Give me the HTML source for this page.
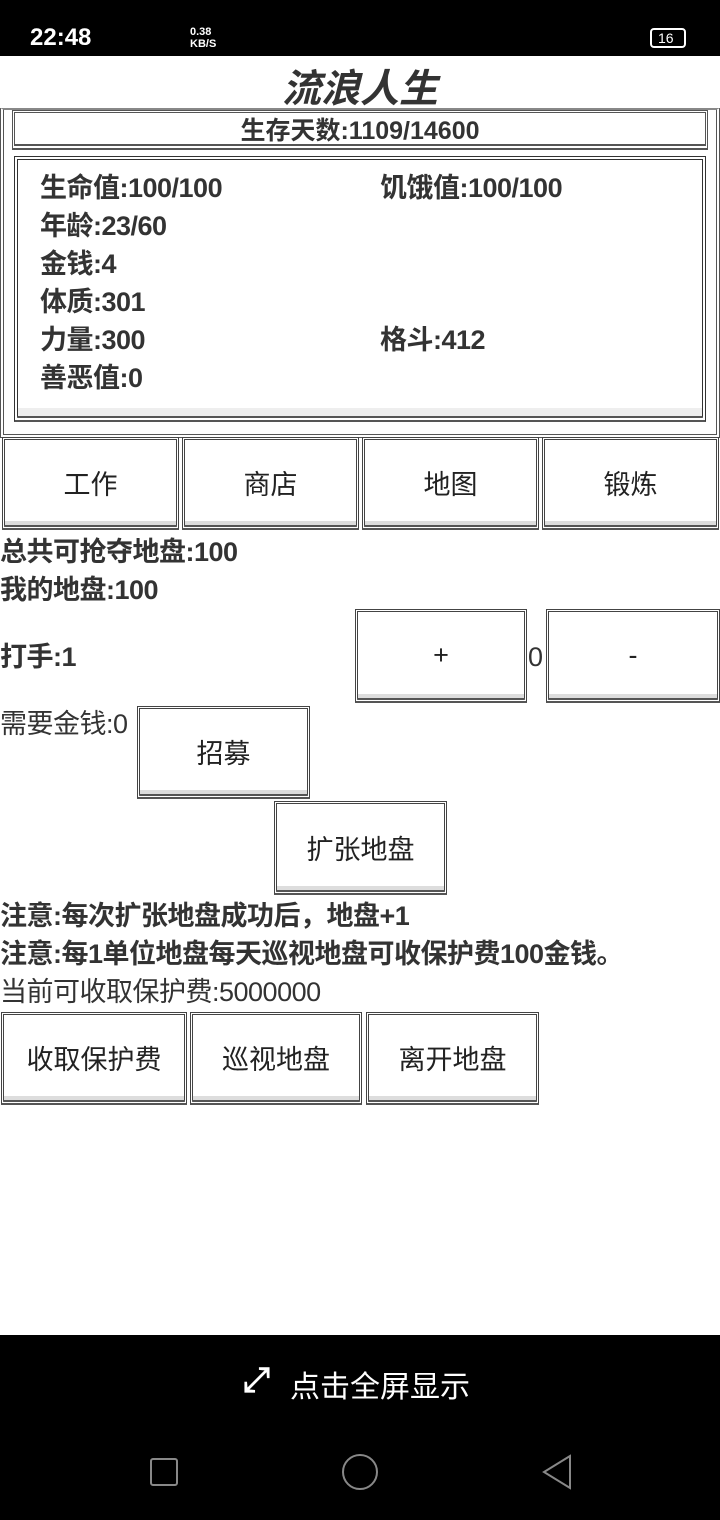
<!DOCTYPE html>
<html><head><meta charset="utf-8"><style>
*{margin:0;padding:0;box-sizing:border-box}
body{width:720px;height:1520px;background:#fff;position:relative;overflow:hidden;font-family:"Liberation Sans","Noto Sans CJK SC",sans-serif;color:#333}
.a{position:absolute;white-space:nowrap}
.b{position:absolute;border:3px double #444;border-bottom:5px double #555;background:#fff;display:flex;align-items:center;justify-content:center;font-size:27px;color:#222;box-shadow:inset 0 -4px 0 #ddd}
.t{font-size:27px;font-weight:bold;line-height:30px;letter-spacing:-0.5px}
.n{font-size:27px;line-height:30px;letter-spacing:-0.5px}
</style></head><body>
<div class="a" style="left:0;top:0;width:720px;height:56px;background:#000"></div>
<div class="a" style="left:30px;top:24px;color:#fff;font-size:24px;font-weight:bold">22:48</div>
<div class="a" style="left:190px;top:26px;color:#fff;font-size:11px;line-height:12px;font-weight:bold">0.38<br>KB/S</div>
<div class="a" style="left:650px;top:28px;width:36px;height:20px;border:2px solid #fff;border-radius:4px;color:#fff;font-size:14px;line-height:16px;padding-left:6px">16</div>

<div class="a" style="left:0;top:58px;width:720px;text-align:center;font-size:39px;font-weight:bold;font-style:italic;color:#333">流浪人生</div>

<div class="a" style="left:0;top:108px;width:720px;height:330px;border:4px double #555;border-top:2px solid #888"></div>
<div class="a" style="left:12px;top:110px;width:696px;height:40px;border:3px double #555;border-bottom:6px double #555;text-align:center;font-size:25px;font-weight:bold;line-height:36px">生存天数:1109/14600</div>
<div class="a" style="left:14px;top:156px;width:692px;height:266px;border:4px double #333;border-bottom:6px double #555;box-shadow:inset 0 -8px 0 #eee"></div>
<div class="a t" style="left:40px;top:173px">生命值:100/100</div>
<div class="a t" style="left:380px;top:173px">饥饿值:100/100</div>
<div class="a t" style="left:40px;top:211px">年龄:23/60</div>
<div class="a t" style="left:40px;top:249px">金钱:4</div>
<div class="a t" style="left:40px;top:287px">体质:301</div>
<div class="a t" style="left:40px;top:325px">力量:300</div>
<div class="a t" style="left:380px;top:325px">格斗:412</div>
<div class="a t" style="left:40px;top:363px">善恶值:0</div>

<div class="b" style="left:2px;top:437px;width:177px;height:93px">工作</div>
<div class="b" style="left:182px;top:437px;width:177px;height:93px">商店</div>
<div class="b" style="left:362px;top:437px;width:177px;height:93px">地图</div>
<div class="b" style="left:542px;top:437px;width:177px;height:93px">锻炼</div>

<div class="a t" style="left:0;top:537px">总共可抢夺地盘:100</div>
<div class="a t" style="left:0;top:575px">我的地盘:100</div>
<div class="a t" style="left:0;top:642px">打手:1</div>
<div class="b" style="left:355px;top:609px;width:172px;height:94px">+</div>
<div class="a n" style="left:528px;top:642px">0</div>
<div class="b" style="left:546px;top:609px;width:174px;height:94px">-</div>
<div class="a n" style="left:0;top:709px">需要金钱:0</div>
<div class="b" style="left:137px;top:706px;width:173px;height:93px">招募</div>
<div class="b" style="left:274px;top:801px;width:173px;height:94px">扩张地盘</div>
<div class="a t" style="left:0;top:901px">注意:每次扩张地盘成功后，地盘+1</div>
<div class="a t" style="left:0;top:939px">注意:每1单位地盘每天巡视地盘可收保护费100金钱。</div>
<div class="a n" style="left:0;top:977px">当前可收取保护费:5000000</div>
<div class="b" style="left:1px;top:1012px;width:186px;height:93px">收取保护费</div>
<div class="b" style="left:190px;top:1012px;width:172px;height:93px">巡视地盘</div>
<div class="b" style="left:366px;top:1012px;width:173px;height:93px">离开地盘</div>

<div class="a" style="left:0;top:1335px;width:720px;height:185px;background:#000"></div>
<div class="a" style="left:243px;top:1362px;color:#fff;font-size:34px;line-height:36px;font-weight:bold">⤢</div>
<div class="a" style="left:290px;top:1362px;color:#fff;font-size:30px">点击全屏显示</div>
<div class="a" style="left:150px;top:1458px;width:28px;height:28px;border:2px solid #888;border-radius:3px"></div>
<div class="a" style="left:342px;top:1454px;width:36px;height:36px;border:2px solid #888;border-radius:50%"></div>
<svg class="a" style="left:538px;top:1452px" width="36" height="40"><path d="M32 4 L6 20 L32 36 Z" fill="none" stroke="#888" stroke-width="2"/></svg>
</body></html>
